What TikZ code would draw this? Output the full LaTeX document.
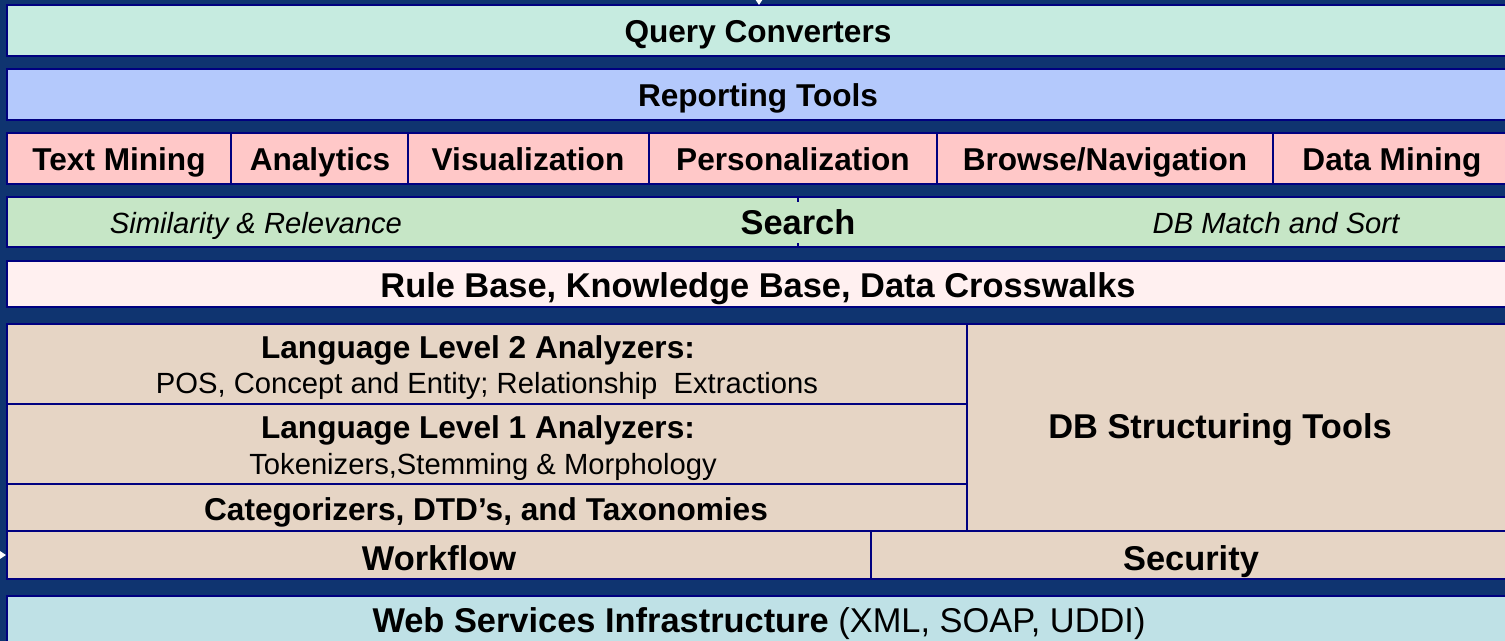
\documentclass[tikz,border=0pt]{standalone}
\usepackage{fontspec}
\setmainfont{Liberation Sans}
\usetikzlibrary{arrows.meta}

\definecolor{bgnavy}{HTML}{0F3470}
\definecolor{edgenavy}{HTML}{000080}
\definecolor{qcmint}{HTML}{C6EBE0}
\definecolor{rtblue}{HTML}{B4C9FC}
\definecolor{toolpink}{HTML}{FFC8C8}
\definecolor{searchgreen}{HTML}{C6E6C6}
\definecolor{rulepink}{HTML}{FFF0F0}
\definecolor{layertan}{HTML}{E6D5C5}
\definecolor{webcyan}{HTML}{BFE1E6}

\tikzset{
  layer/.style={draw=edgenavy, line width=1.4pt},
  divider/.style={draw=edgenavy, line width=1.4pt},
  bigtxt/.style={anchor=base, inner sep=1pt, font=\fontsize{17.2}{20}\selectfont\bfseries},
  midtxt/.style={anchor=base, inner sep=1pt, font=\fontsize{15.8}{19}\selectfont\bfseries},
  plaintxt/.style={anchor=base, inner sep=1pt, font=\fontsize{14.6}{17}\selectfont},
  slanttxt/.style={plaintxt, font=\fontsize{14.6}{17}\selectfont\itshape},
  feed/.style={white, line width=1pt, -{Triangle[length=4pt,width=5pt]}},
}

\begin{document}
\begin{tikzpicture}[x=0.5pt,y=-0.5pt]
		\useasboundingbox (0,0) rectangle (1505,641);
		\clip (0,0) rectangle (1505,641);
		\fill[bgnavy] (0,0) rectangle (1505,641);

		% layers, top to bottom
		\draw[layer, fill=qcmint] (7,5) rectangle (1511,56);
		\draw[layer, fill=rtblue] (7,69) rectangle (1511,120);
		\draw[layer, fill=toolpink] (7,133) rectangle (1511,184);
		\draw[layer, fill=searchgreen] (7,197) rectangle (1511,247);
		\draw[layer, fill=rulepink] (7,261) rectangle (1511,307);
		\draw[layer, fill=layertan] (7,324) rectangle (1511,579);
		\draw[layer, fill=webcyan] (7,596) rectangle (1511,660);

		% cell borders
		\draw[divider] (231,133) -- (231,184) (408,133) -- (408,184) (649,133) -- (649,184)
			(937,133) -- (937,184) (1273,133) -- (1273,184);
		\draw[divider] (798,197) -- (798,247);
		\draw[divider] (7,404) -- (967,404) (7,484) -- (967,484) (7,531) -- (1511,531);
		\draw[divider] (967,324) -- (967,531) (871,531) -- (871,579);

		% incoming arrow tips at the cut edges
		\coordinate (topfeed) at (759,-12);
		\coordinate (topfeedend) at (759,5);
		\coordinate (leftfeed) at (-12,555);
		\coordinate (leftfeedend) at (6,555);
		\draw[feed] (topfeed) -- (topfeedend);
		\draw[feed] (leftfeed) -- (leftfeedend);

		\node[midtxt] (qconv) at (758,43) {Query Converters};
		\node[midtxt] (report) at (758,107) {Reporting Tools};

		\node[midtxt] (tmining) at (119,171) {Text Mining};
		\node[midtxt] (analytics) at (320,171) {Analytics};
		\node[midtxt] (visual) at (528,171) {Visualization};
		\node[midtxt] (personal) at (793,171) {Personalization};
		\node[midtxt] (browse) at (1105,171) {Browse/Navigation};
		\node[midtxt] (dmining) at (1392,171) {Data Mining};

		\node[slanttxt] (simrel) at (256,234) {Similarity \& Relevance};
		\node[bigtxt, fill=searchgreen, inner xsep=1pt, inner ysep=4pt] (search) at (798,235) {Search};
		\node[slanttxt] (dbmatch) at (1276,234) {DB Match and Sort};

		\node[bigtxt] (rules) at (758,298) {Rule Base, Knowledge Base, Data Crosswalks};

		\node[midtxt] (lang2) at (478,359) {Language Level 2 Analyzers:};
		\node[plaintxt] (lang2sub) at (487,394) {POS, Concept and Entity; Relationship\ \ Extractions};
		\node[midtxt] (lang1) at (478,439) {Language Level 1 Analyzers:};
		\node[plaintxt] (lang1sub) at (483,474) {Tokenizers,Stemming \& Morphology};
		\node[midtxt] (categ) at (486,521) {Categorizers, DTD’s, and Taxonomies};
		\node[bigtxt] (dbtools) at (1220,439) {DB Structuring Tools};

		\node[bigtxt] (workflow) at (439,570) {Workflow};
		\node[bigtxt] (security) at (1191,570) {Security};

		\node[bigtxt] (websvc) at (759,632) {Web Services Infrastructure \mdseries(XML, SOAP, UDDI)};
	\end{tikzpicture}
\end{document}
